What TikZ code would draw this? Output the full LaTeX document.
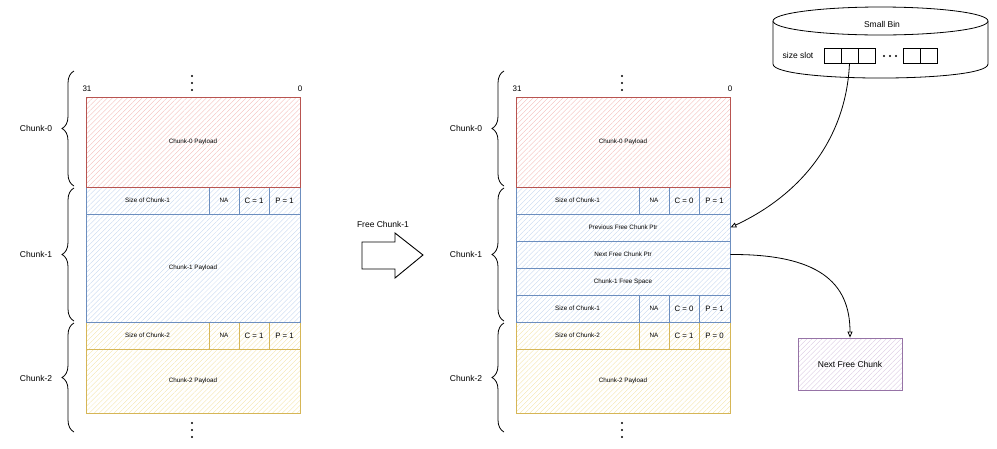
\documentclass[tikz,border=0pt]{standalone}
\usepackage{fontspec}
\setmainfont{Liberation Sans}
\usetikzlibrary{patterns.meta,decorations.pathreplacing,arrows.meta}
\definecolor{redB}{HTML}{B85450}
\definecolor{redH}{HTML}{F2BAB7}
\definecolor{bluB}{HTML}{6C8EBF}
\definecolor{bluH}{HTML}{C3D5EE}
\definecolor{yelB}{HTML}{D6B656}
\definecolor{yelH}{HTML}{F3E3A8}
\definecolor{purB}{HTML}{9673A6}
\definecolor{purH}{HTML}{D8C6E0}
\tikzset{
  hatch/.style={pattern={Lines[angle=45,distance=3.5pt,line width=0.35pt]}},
  cellbase/.style={inner sep=0pt, line width=0.8pt, font=\fontsize{6.3}{7}\selectfont},
  redc/.style={draw=redB, hatch, pattern color=redH},
  bluc/.style={draw=bluB, hatch, pattern color=bluH},
  ylwc/.style={draw=yelB, hatch, pattern color=yelH},
  purc/.style={draw=purB, line width=0.8pt, hatch, pattern color=purH, inner sep=0pt, font=\fontsize{8.5}{10}\selectfont},
  bigc/.style={font=\fontsize{7.8}{9}\selectfont},
  chunklbl/.style={font=\fontsize{8.5}{10}\selectfont},
  bitlbl/.style={font=\fontsize{8}{9}\selectfont},
  bracedeco/.style={decorate, decoration={brace, amplitude=12pt}, line width=0.8pt},
  slotbox/.style={draw, line width=0.7pt, minimum width=17pt, minimum height=15pt, inner sep=0pt},
  conn/.style={line width=0.8pt, -{Triangle[open,length=6pt,width=5pt]}},
  dotmark/.style={fill=black, circle, inner sep=0pt, minimum size=2.4pt},
}
\newcommand\cellnode[7]{%
  \node[cellbase,#1,minimum width={(#5)-(#3)},minimum height={(#6)-(#4)}] (#2) at ({((#3)+(#5))/2},{((#4)+(#6))/2}) {#7};}
\begin{document}
\begin{tikzpicture}[x=1pt,y=-1pt]
\useasboundingbox (0,0) rectangle (997,448);

% ================= LEFT =================
\node[bitlbl] (l31) at (87,89) {31};
\node[bitlbl] (l0) at (300,89) {0};
\node[dotmark] (ld1) at (192,76) {};
\node[dotmark] (ld2) at (192,83) {};
\node[dotmark] (ld3) at (192,90) {};

\cellnode{ylwc}{Lc2pay}{86}{349}{300}{413}{Chunk-2 Payload}
\cellnode{ylwc}{Lc2sz}{86}{322}{209}{349}{Size of Chunk-2}
\cellnode{ylwc}{Lc2na}{209}{322}{239}{349}{NA}
\cellnode{ylwc,bigc}{Lc2c}{239}{322}{269}{349}{C = 1}
\cellnode{ylwc,bigc}{Lc2p}{269}{322}{300}{349}{P = 1}

\cellnode{bluc}{Lc1pay}{86}{214}{300}{322}{Chunk-1 Payload}
\cellnode{bluc}{Lc1sz}{86}{187}{209}{214}{Size of Chunk-1}
\cellnode{bluc}{Lc1na}{209}{187}{239}{214}{NA}
\cellnode{bluc,bigc}{Lc1c}{239}{187}{269}{214}{C = 1}
\cellnode{bluc,bigc}{Lc1p}{269}{187}{300}{214}{P = 1}

\cellnode{redc}{Lc0pay}{86}{97}{300}{187}{Chunk-0 Payload}

\node[dotmark] (ld4) at (192,423) {};
\node[dotmark] (ld5) at (192,430) {};
\node[dotmark] (ld6) at (192,437) {};

\draw[bracedeco] (74,186) -- (74,71);
\draw[bracedeco] (74,321) -- (74,188);
\draw[bracedeco] (74,432) -- (74,323);
\node[chunklbl] (lb0) at (36,128) {Chunk-0};
\node[chunklbl] (lb1) at (36,254) {Chunk-1};
\node[chunklbl] (lb2) at (36,378) {Chunk-2};

% ================= ARROW =================
\node[chunklbl] (freelbl) at (383,224) {Free Chunk-1};
\draw[line width=0.9pt, line join=miter] (362,242) -- (395,242) -- (395,233) -- (423,255) -- (395,278) -- (395,269) -- (362,269) -- cycle;

% ================= RIGHT =================
\node[bitlbl] (r31) at (517,89) {31};
\node[bitlbl] (r0) at (730,89) {0};
\node[dotmark] (rd1) at (622,76) {};
\node[dotmark] (rd2) at (622,83) {};
\node[dotmark] (rd3) at (622,90) {};

\cellnode{ylwc}{Rc2pay}{516}{349}{730}{413}{Chunk-2 Payload}
\cellnode{ylwc}{Rc2sz}{516}{322}{639}{349}{Size of Chunk-2}
\cellnode{ylwc}{Rc2na}{639}{322}{669}{349}{NA}
\cellnode{ylwc,bigc}{Rc2c}{669}{322}{699}{349}{C = 1}
\cellnode{ylwc,bigc}{Rc2p}{699}{322}{730}{349}{P = 0}

\cellnode{bluc}{Rc1fsz}{516}{295}{639}{322}{Size of Chunk-1}
\cellnode{bluc}{Rc1fna}{639}{295}{669}{322}{NA}
\cellnode{bluc,bigc}{Rc1fc}{669}{295}{699}{322}{C = 0}
\cellnode{bluc,bigc}{Rc1fp}{699}{295}{730}{322}{P = 1}
\cellnode{bluc}{Rfree}{516}{268}{730}{295}{Chunk-1 Free Space}
\cellnode{bluc}{Rnext}{516}{241}{730}{268}{Next Free Chunk Ptr}
\cellnode{bluc}{Rprev}{516}{214}{730}{241}{Previous Free Chunk Ptr}
\cellnode{bluc}{Rc1sz}{516}{187}{639}{214}{Size of Chunk-1}
\cellnode{bluc}{Rc1na}{639}{187}{669}{214}{NA}
\cellnode{bluc,bigc}{Rc1c}{669}{187}{699}{214}{C = 0}
\cellnode{bluc,bigc}{Rc1p}{699}{187}{730}{214}{P = 1}

\cellnode{redc}{Rc0pay}{516}{97}{730}{187}{Chunk-0 Payload}

\node[dotmark] (rd4) at (622,423) {};
\node[dotmark] (rd5) at (622,430) {};
\node[dotmark] (rd6) at (622,437) {};

\draw[bracedeco] (504,186) -- (504,71);
\draw[bracedeco] (504,321) -- (504,188);
\draw[bracedeco] (504,432) -- (504,323);
\node[chunklbl] (rb0) at (466,128) {Chunk-0};
\node[chunklbl] (rb1) at (466,254) {Chunk-1};
\node[chunklbl] (rb2) at (466,378) {Chunk-2};

% ================= SMALL BIN =================
\draw[line width=0.8pt] (773,21) -- (773,64) .. controls (773,82.7) and (988,82.7) .. (988,64) -- (988,21);
\draw[line width=0.8pt, fill=white] (880.5,21) ellipse [x radius=107.5, y radius=14];
\node[chunklbl] (binlbl) at (882,24) {Small Bin};
\node[chunklbl] (slotlbl) at (798,55) {size slot};
\node[slotbox] (s1) at (832.5,55.5) {};
\node[slotbox] (s2) at (849.5,55.5) {};
\node[slotbox] (s3) at (866.5,55.5) {};
\node[slotbox] (s4) at (911.5,55.5) {};
\node[slotbox] (s5) at (928.5,55.5) {};
\node[dotmark, minimum size=2.2pt] (bd1) at (884,56) {};
\node[dotmark, minimum size=2.2pt] (bd2) at (890,56) {};
\node[dotmark, minimum size=2.2pt] (bd3) at (896,56) {};

\node[purc, minimum width=104pt, minimum height=52pt] (nfc) at (850,364) {Next Free Chunk};

% ================= CONNECTORS =================
\draw[conn] (s2.south) .. controls (846,140) and (800,195) .. (Rprev.east);
\draw[conn] (Rnext.east) .. controls (818,254) and (850,282) .. (nfc.north);
\end{tikzpicture}
\end{document}
